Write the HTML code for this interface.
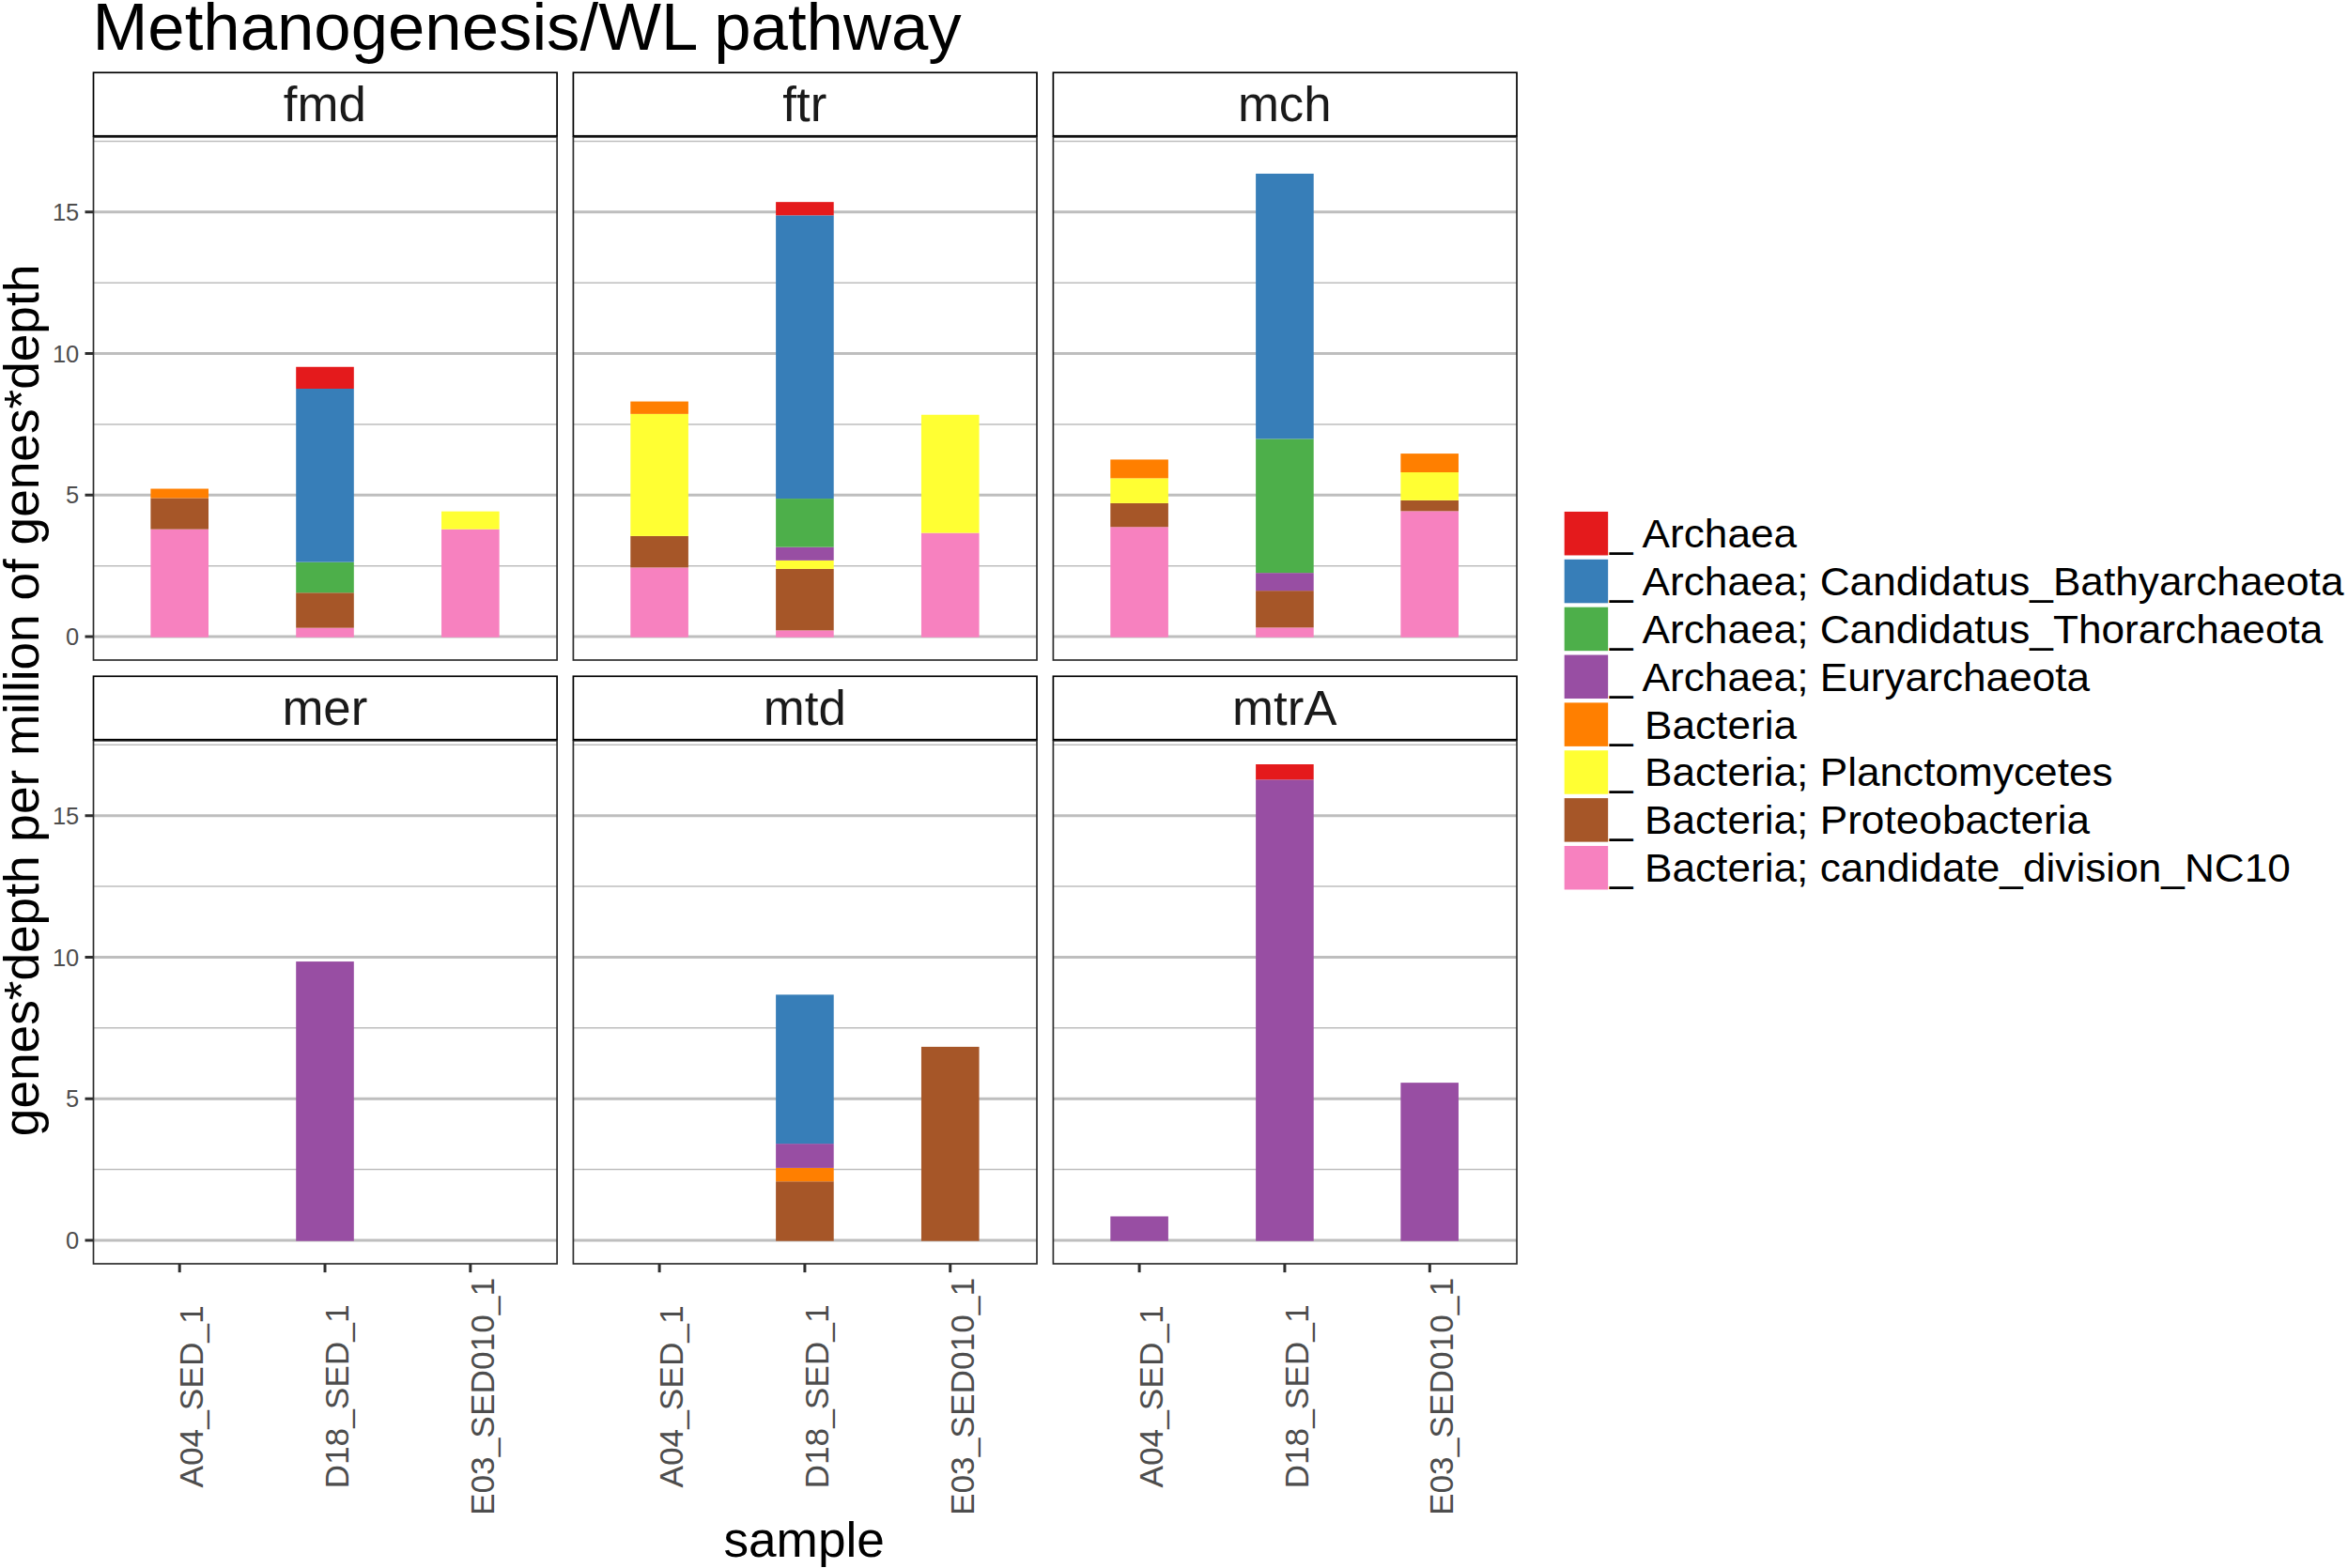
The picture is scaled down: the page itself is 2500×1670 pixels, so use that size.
<!DOCTYPE html>
<html lang="en">
<head>
<meta charset="utf-8">
<title>Methanogenesis/WL pathway</title>
<style>
html,body{margin:0;padding:0;background:#fff;}
body{width:2500px;height:1670px;overflow:hidden;}
svg{display:block;}
text{font-family:"Liberation Sans",sans-serif;}
.t{fill:#000;}
.st{fill:#1a1a1a;}
.ax{fill:#4d4d4d;}
</style>
</head>
<body>
<svg width="2500" height="1670" viewBox="0 0 2500 1670">
<rect x="0" y="0" width="2500" height="1670" fill="#ffffff"/>
<text class="t" font-size="70.85" transform="translate(98.45 53.3) scale(0.9985 1)">Methanogenesis/WL pathway</text>
<g>
<line x1="99.5" x2="593.1" y1="602.65" y2="602.65" stroke="#bebebe" stroke-width="1.5"/>
<line x1="99.5" x2="593.1" y1="451.9" y2="451.9" stroke="#bebebe" stroke-width="1.5"/>
<line x1="99.5" x2="593.1" y1="301.14" y2="301.14" stroke="#bebebe" stroke-width="1.5"/>
<line x1="99.5" x2="593.1" y1="150.39" y2="150.39" stroke="#bebebe" stroke-width="1.5"/>
<line x1="99.5" x2="593.1" y1="678.03" y2="678.03" stroke="#bebebe" stroke-width="3"/>
<line x1="99.5" x2="593.1" y1="527.27" y2="527.27" stroke="#bebebe" stroke-width="3"/>
<line x1="99.5" x2="593.1" y1="376.52" y2="376.52" stroke="#bebebe" stroke-width="3"/>
<line x1="99.5" x2="593.1" y1="225.76" y2="225.76" stroke="#bebebe" stroke-width="3"/>
<rect x="160.4" y="563.67" width="61.6" height="115.06" fill="#F781BF"/>
<rect x="160.4" y="530.47" width="61.6" height="33.19" fill="#A65628"/>
<rect x="160.4" y="520.52" width="61.6" height="9.96" fill="#FF7F00"/>
<rect x="315.2" y="668.68" width="61.6" height="10.05" fill="#F781BF"/>
<rect x="315.2" y="631.26" width="61.6" height="37.42" fill="#A65628"/>
<rect x="315.2" y="598.67" width="61.6" height="32.59" fill="#4DAF4A"/>
<rect x="315.2" y="414" width="61.6" height="184.67" fill="#377EB8"/>
<rect x="315.2" y="390.76" width="61.6" height="23.23" fill="#E41A1C"/>
<rect x="470.05" y="563.67" width="61.6" height="115.06" fill="#F781BF"/>
<rect x="470.05" y="544.66" width="61.6" height="19.01" fill="#FFFF33"/>
<rect x="99.5" y="145.9" width="493.6" height="557.1" fill="none" stroke="#2e2e2e" stroke-width="1.7"/>
<rect x="99.5" y="77.3" width="493.6" height="67.45" fill="#ffffff" stroke="#000000" stroke-width="1.7"/>
<text class="st" font-size="51.7" text-anchor="middle" transform="translate(345.85 129.3) scale(1.021 1)">fmd</text>
<line x1="90.5" x2="99.5" y1="678.03" y2="678.03" stroke="#2e2e2e" stroke-width="3"/>
<text class="ax" font-size="26.3" text-anchor="end" transform="translate(84.3 687.13) scale(0.97 1)">0</text>
<line x1="90.5" x2="99.5" y1="527.27" y2="527.27" stroke="#2e2e2e" stroke-width="3"/>
<text class="ax" font-size="26.3" text-anchor="end" transform="translate(84.3 536.38) scale(0.97 1)">5</text>
<line x1="90.5" x2="99.5" y1="376.52" y2="376.52" stroke="#2e2e2e" stroke-width="3"/>
<text class="ax" font-size="26.3" text-anchor="end" transform="translate(84.3 385.62) scale(0.97 1)">10</text>
<line x1="90.5" x2="99.5" y1="225.76" y2="225.76" stroke="#2e2e2e" stroke-width="3"/>
<text class="ax" font-size="26.3" text-anchor="end" transform="translate(84.3 234.86) scale(0.97 1)">15</text>
</g>
<g>
<line x1="610.4" x2="1104" y1="602.65" y2="602.65" stroke="#bebebe" stroke-width="1.5"/>
<line x1="610.4" x2="1104" y1="451.9" y2="451.9" stroke="#bebebe" stroke-width="1.5"/>
<line x1="610.4" x2="1104" y1="301.14" y2="301.14" stroke="#bebebe" stroke-width="1.5"/>
<line x1="610.4" x2="1104" y1="150.39" y2="150.39" stroke="#bebebe" stroke-width="1.5"/>
<line x1="610.4" x2="1104" y1="678.03" y2="678.03" stroke="#bebebe" stroke-width="3"/>
<line x1="610.4" x2="1104" y1="527.27" y2="527.27" stroke="#bebebe" stroke-width="3"/>
<line x1="610.4" x2="1104" y1="376.52" y2="376.52" stroke="#bebebe" stroke-width="3"/>
<line x1="610.4" x2="1104" y1="225.76" y2="225.76" stroke="#bebebe" stroke-width="3"/>
<rect x="671.3" y="604.4" width="61.6" height="74.33" fill="#F781BF"/>
<rect x="671.3" y="570.91" width="61.6" height="33.49" fill="#A65628"/>
<rect x="671.3" y="440.85" width="61.6" height="130.05" fill="#FFFF33"/>
<rect x="671.3" y="427.58" width="61.6" height="13.28" fill="#FF7F00"/>
<rect x="826.1" y="671.39" width="61.6" height="7.34" fill="#F781BF"/>
<rect x="826.1" y="605.91" width="61.6" height="65.48" fill="#A65628"/>
<rect x="826.1" y="596.86" width="61.6" height="9.05" fill="#FFFF33"/>
<rect x="826.1" y="582.68" width="61.6" height="14.18" fill="#984EA3"/>
<rect x="826.1" y="531.08" width="61.6" height="51.6" fill="#4DAF4A"/>
<rect x="826.1" y="229.33" width="61.6" height="301.75" fill="#377EB8"/>
<rect x="826.1" y="215.15" width="61.6" height="14.18" fill="#E41A1C"/>
<rect x="980.95" y="567.59" width="61.6" height="111.14" fill="#F781BF"/>
<rect x="980.95" y="441.76" width="61.6" height="125.83" fill="#FFFF33"/>
<rect x="610.4" y="145.9" width="493.6" height="557.1" fill="none" stroke="#2e2e2e" stroke-width="1.7"/>
<rect x="610.4" y="77.3" width="493.6" height="67.45" fill="#ffffff" stroke="#000000" stroke-width="1.7"/>
<text class="st" font-size="51.7" text-anchor="middle" transform="translate(856.75 129.3) scale(1.021 1)">ftr</text>
</g>
<g>
<line x1="1121.4" x2="1615" y1="602.65" y2="602.65" stroke="#bebebe" stroke-width="1.5"/>
<line x1="1121.4" x2="1615" y1="451.9" y2="451.9" stroke="#bebebe" stroke-width="1.5"/>
<line x1="1121.4" x2="1615" y1="301.14" y2="301.14" stroke="#bebebe" stroke-width="1.5"/>
<line x1="1121.4" x2="1615" y1="150.39" y2="150.39" stroke="#bebebe" stroke-width="1.5"/>
<line x1="1121.4" x2="1615" y1="678.03" y2="678.03" stroke="#bebebe" stroke-width="3"/>
<line x1="1121.4" x2="1615" y1="527.27" y2="527.27" stroke="#bebebe" stroke-width="3"/>
<line x1="1121.4" x2="1615" y1="376.52" y2="376.52" stroke="#bebebe" stroke-width="3"/>
<line x1="1121.4" x2="1615" y1="225.76" y2="225.76" stroke="#bebebe" stroke-width="3"/>
<rect x="1182.3" y="561.25" width="61.6" height="117.48" fill="#F781BF"/>
<rect x="1182.3" y="535.91" width="61.6" height="25.35" fill="#A65628"/>
<rect x="1182.3" y="509.35" width="61.6" height="26.55" fill="#FFFF33"/>
<rect x="1182.3" y="489.44" width="61.6" height="19.92" fill="#FF7F00"/>
<rect x="1337.1" y="668.37" width="61.6" height="10.36" fill="#F781BF"/>
<rect x="1337.1" y="629.15" width="61.6" height="39.23" fill="#A65628"/>
<rect x="1337.1" y="610.14" width="61.6" height="19.01" fill="#984EA3"/>
<rect x="1337.1" y="467.41" width="61.6" height="142.73" fill="#4DAF4A"/>
<rect x="1337.1" y="184.97" width="61.6" height="282.44" fill="#377EB8"/>
<rect x="1491.35" y="544.35" width="61.6" height="134.38" fill="#F781BF"/>
<rect x="1491.35" y="532.89" width="61.6" height="11.47" fill="#A65628"/>
<rect x="1491.35" y="503.01" width="61.6" height="29.87" fill="#FFFF33"/>
<rect x="1491.35" y="483.1" width="61.6" height="19.92" fill="#FF7F00"/>
<rect x="1121.4" y="145.9" width="493.6" height="557.1" fill="none" stroke="#2e2e2e" stroke-width="1.7"/>
<rect x="1121.4" y="77.3" width="493.6" height="67.45" fill="#ffffff" stroke="#000000" stroke-width="1.7"/>
<text class="st" font-size="51.7" text-anchor="middle" transform="translate(1367.75 129.3) scale(1.021 1)">mch</text>
</g>
<g>
<line x1="99.5" x2="593.1" y1="1245.62" y2="1245.62" stroke="#bebebe" stroke-width="1.5"/>
<line x1="99.5" x2="593.1" y1="1094.87" y2="1094.87" stroke="#bebebe" stroke-width="1.5"/>
<line x1="99.5" x2="593.1" y1="944.11" y2="944.11" stroke="#bebebe" stroke-width="1.5"/>
<line x1="99.5" x2="593.1" y1="793.36" y2="793.36" stroke="#bebebe" stroke-width="1.5"/>
<line x1="99.5" x2="593.1" y1="1321" y2="1321" stroke="#bebebe" stroke-width="3"/>
<line x1="99.5" x2="593.1" y1="1170.24" y2="1170.24" stroke="#bebebe" stroke-width="3"/>
<line x1="99.5" x2="593.1" y1="1019.49" y2="1019.49" stroke="#bebebe" stroke-width="3"/>
<line x1="99.5" x2="593.1" y1="868.74" y2="868.74" stroke="#bebebe" stroke-width="3"/>
<rect x="315.2" y="1024.08" width="61.6" height="297.62" fill="#984EA3"/>
<rect x="99.5" y="788.87" width="493.6" height="557.1" fill="none" stroke="#2e2e2e" stroke-width="1.7"/>
<rect x="99.5" y="720.27" width="493.6" height="67.45" fill="#ffffff" stroke="#000000" stroke-width="1.7"/>
<text class="st" font-size="51.7" text-anchor="middle" transform="translate(345.85 772.27) scale(1.021 1)">mer</text>
<line x1="90.5" x2="99.5" y1="1321" y2="1321" stroke="#2e2e2e" stroke-width="3"/>
<text class="ax" font-size="26.3" text-anchor="end" transform="translate(84.3 1330.1) scale(0.97 1)">0</text>
<line x1="90.5" x2="99.5" y1="1170.24" y2="1170.24" stroke="#2e2e2e" stroke-width="3"/>
<text class="ax" font-size="26.3" text-anchor="end" transform="translate(84.3 1179.34) scale(0.97 1)">5</text>
<line x1="90.5" x2="99.5" y1="1019.49" y2="1019.49" stroke="#2e2e2e" stroke-width="3"/>
<text class="ax" font-size="26.3" text-anchor="end" transform="translate(84.3 1028.59) scale(0.97 1)">10</text>
<line x1="90.5" x2="99.5" y1="868.74" y2="868.74" stroke="#2e2e2e" stroke-width="3"/>
<text class="ax" font-size="26.3" text-anchor="end" transform="translate(84.3 877.84) scale(0.97 1)">15</text>
<line x1="191.2" x2="191.2" y1="1345.97" y2="1355.17" stroke="#2e2e2e" stroke-width="3"/>
<text class="ax" font-size="35.6" text-anchor="middle" transform="translate(216.2 1487.5) rotate(-90) scale(0.9916 1)">A04_SED_1</text>
<line x1="346" x2="346" y1="1345.97" y2="1355.17" stroke="#2e2e2e" stroke-width="3"/>
<text class="ax" font-size="35.6" text-anchor="middle" transform="translate(371 1487.5) rotate(-90) scale(0.9916 1)">D18_SED_1</text>
<line x1="500.85" x2="500.85" y1="1345.97" y2="1355.17" stroke="#2e2e2e" stroke-width="3"/>
<text class="ax" font-size="35.6" text-anchor="middle" transform="translate(525.85 1487.5) rotate(-90) scale(0.9916 1)">E03_SED010_1</text>
</g>
<g>
<line x1="610.4" x2="1104" y1="1245.62" y2="1245.62" stroke="#bebebe" stroke-width="1.5"/>
<line x1="610.4" x2="1104" y1="1094.87" y2="1094.87" stroke="#bebebe" stroke-width="1.5"/>
<line x1="610.4" x2="1104" y1="944.11" y2="944.11" stroke="#bebebe" stroke-width="1.5"/>
<line x1="610.4" x2="1104" y1="793.36" y2="793.36" stroke="#bebebe" stroke-width="1.5"/>
<line x1="610.4" x2="1104" y1="1321" y2="1321" stroke="#bebebe" stroke-width="3"/>
<line x1="610.4" x2="1104" y1="1170.24" y2="1170.24" stroke="#bebebe" stroke-width="3"/>
<line x1="610.4" x2="1104" y1="1019.49" y2="1019.49" stroke="#bebebe" stroke-width="3"/>
<line x1="610.4" x2="1104" y1="868.74" y2="868.74" stroke="#bebebe" stroke-width="3"/>
<rect x="826.1" y="1258.24" width="61.6" height="63.46" fill="#A65628"/>
<rect x="826.1" y="1243.9" width="61.6" height="14.33" fill="#FF7F00"/>
<rect x="826.1" y="1218.1" width="61.6" height="25.8" fill="#984EA3"/>
<rect x="826.1" y="1059.38" width="61.6" height="158.72" fill="#377EB8"/>
<rect x="980.95" y="1114.9" width="61.6" height="206.8" fill="#A65628"/>
<rect x="610.4" y="788.87" width="493.6" height="557.1" fill="none" stroke="#2e2e2e" stroke-width="1.7"/>
<rect x="610.4" y="720.27" width="493.6" height="67.45" fill="#ffffff" stroke="#000000" stroke-width="1.7"/>
<text class="st" font-size="51.7" text-anchor="middle" transform="translate(856.75 772.27) scale(1.021 1)">mtd</text>
<line x1="702.1" x2="702.1" y1="1345.97" y2="1355.17" stroke="#2e2e2e" stroke-width="3"/>
<text class="ax" font-size="35.6" text-anchor="middle" transform="translate(727.1 1487.5) rotate(-90) scale(0.9916 1)">A04_SED_1</text>
<line x1="856.9" x2="856.9" y1="1345.97" y2="1355.17" stroke="#2e2e2e" stroke-width="3"/>
<text class="ax" font-size="35.6" text-anchor="middle" transform="translate(881.9 1487.5) rotate(-90) scale(0.9916 1)">D18_SED_1</text>
<line x1="1011.75" x2="1011.75" y1="1345.97" y2="1355.17" stroke="#2e2e2e" stroke-width="3"/>
<text class="ax" font-size="35.6" text-anchor="middle" transform="translate(1036.75 1487.5) rotate(-90) scale(0.9916 1)">E03_SED010_1</text>
</g>
<g>
<line x1="1121.4" x2="1615" y1="1245.62" y2="1245.62" stroke="#bebebe" stroke-width="1.5"/>
<line x1="1121.4" x2="1615" y1="1094.87" y2="1094.87" stroke="#bebebe" stroke-width="1.5"/>
<line x1="1121.4" x2="1615" y1="944.11" y2="944.11" stroke="#bebebe" stroke-width="1.5"/>
<line x1="1121.4" x2="1615" y1="793.36" y2="793.36" stroke="#bebebe" stroke-width="1.5"/>
<line x1="1121.4" x2="1615" y1="1321" y2="1321" stroke="#bebebe" stroke-width="3"/>
<line x1="1121.4" x2="1615" y1="1170.24" y2="1170.24" stroke="#bebebe" stroke-width="3"/>
<line x1="1121.4" x2="1615" y1="1019.49" y2="1019.49" stroke="#bebebe" stroke-width="3"/>
<line x1="1121.4" x2="1615" y1="868.74" y2="868.74" stroke="#bebebe" stroke-width="3"/>
<rect x="1182.3" y="1295.5" width="61.6" height="26.2" fill="#984EA3"/>
<rect x="1337.1" y="830.29" width="61.6" height="491.41" fill="#984EA3"/>
<rect x="1337.1" y="814" width="61.6" height="16.29" fill="#E41A1C"/>
<rect x="1491.35" y="1153.14" width="61.6" height="168.56" fill="#984EA3"/>
<rect x="1121.4" y="788.87" width="493.6" height="557.1" fill="none" stroke="#2e2e2e" stroke-width="1.7"/>
<rect x="1121.4" y="720.27" width="493.6" height="67.45" fill="#ffffff" stroke="#000000" stroke-width="1.7"/>
<text class="st" font-size="51.7" text-anchor="middle" transform="translate(1367.75 772.27) scale(1.021 1)">mtrA</text>
<line x1="1213.1" x2="1213.1" y1="1345.97" y2="1355.17" stroke="#2e2e2e" stroke-width="3"/>
<text class="ax" font-size="35.6" text-anchor="middle" transform="translate(1238.1 1487.5) rotate(-90) scale(0.9916 1)">A04_SED_1</text>
<line x1="1367.9" x2="1367.9" y1="1345.97" y2="1355.17" stroke="#2e2e2e" stroke-width="3"/>
<text class="ax" font-size="35.6" text-anchor="middle" transform="translate(1392.9 1487.5) rotate(-90) scale(0.9916 1)">D18_SED_1</text>
<line x1="1522.3" x2="1522.3" y1="1345.97" y2="1355.17" stroke="#2e2e2e" stroke-width="3"/>
<text class="ax" font-size="35.6" text-anchor="middle" transform="translate(1547.3 1487.5) rotate(-90) scale(0.9916 1)">E03_SED010_1</text>
</g>
<text class="t" font-size="51.7" text-anchor="middle" transform="translate(41 745.93) rotate(-90) scale(1.029 1)">genes*depth per million of genes*depth</text>
<text class="t" font-size="51.9" text-anchor="middle" transform="translate(856.15 1657.85) scale(1.025 1)">sample</text>
<rect x="1665.65" y="544.95" width="46.5" height="46.5" fill="#E41A1C"/>
<text class="t" font-size="43.3" transform="translate(1714.1 583.1) scale(1.0208 1)">_ Archaea</text>
<rect x="1665.65" y="595.81" width="46.5" height="46.5" fill="#377EB8"/>
<text class="t" font-size="43.3" transform="translate(1714.1 633.96) scale(1.0208 1)">_ Archaea; Candidatus_Bathyarchaeota</text>
<rect x="1665.65" y="646.67" width="46.5" height="46.5" fill="#4DAF4A"/>
<text class="t" font-size="43.3" transform="translate(1714.1 684.82) scale(1.0208 1)">_ Archaea; Candidatus_Thorarchaeota</text>
<rect x="1665.65" y="697.53" width="46.5" height="46.5" fill="#984EA3"/>
<text class="t" font-size="43.3" transform="translate(1714.1 735.68) scale(1.0208 1)">_ Archaea; Euryarchaeota</text>
<rect x="1665.65" y="748.39" width="46.5" height="46.5" fill="#FF7F00"/>
<text class="t" font-size="43.3" transform="translate(1714.1 786.54) scale(1.0208 1)">_ Bacteria</text>
<rect x="1665.65" y="799.25" width="46.5" height="46.5" fill="#FFFF33"/>
<text class="t" font-size="43.3" transform="translate(1714.1 837.4) scale(1.0208 1)">_ Bacteria; Planctomycetes</text>
<rect x="1665.65" y="850.11" width="46.5" height="46.5" fill="#A65628"/>
<text class="t" font-size="43.3" transform="translate(1714.1 888.26) scale(1.0208 1)">_ Bacteria; Proteobacteria</text>
<rect x="1665.65" y="900.97" width="46.5" height="46.5" fill="#F781BF"/>
<text class="t" font-size="43.3" transform="translate(1714.1 939.12) scale(1.0208 1)">_ Bacteria; candidate_division_NC10</text>
</svg>
</body>
</html>
